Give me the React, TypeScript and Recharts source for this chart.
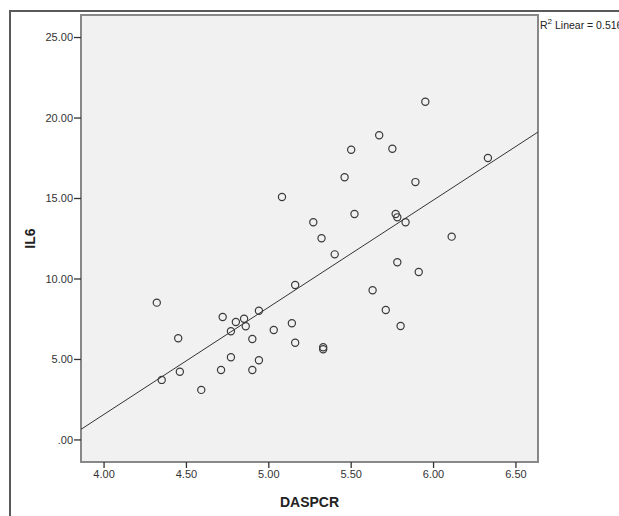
import {
  ReferenceArea,
  ReferenceLine,
  Scatter,
  ScatterChart,
  XAxis,
  YAxis,
} from "recharts";

// DASPCR (x) and IL6 (y) values
const daspcr = [
  4.32, 4.35, 4.45, 4.46, 4.59, 4.71, 4.72, 4.77, 4.77, 4.8, 4.85, 4.86, 4.9,
  4.9, 4.94, 4.94, 5.03, 5.08, 5.14, 5.16, 5.16, 5.27, 5.32, 5.33, 5.33, 5.4,
  5.46, 5.5, 5.52, 5.63, 5.67, 5.71, 5.75, 5.77, 5.78, 5.78, 5.8, 5.83, 5.89,
  5.91, 5.95, 6.11, 6.33,
];
const il6 = [
  8.53, 3.73, 6.32, 4.24, 3.11, 4.35, 7.64, 6.75, 5.14, 7.33, 7.53, 7.06, 6.27,
  4.35, 8.03, 4.95, 6.83, 15.09, 7.25, 9.63, 6.04, 13.52, 12.53, 5.76, 5.63,
  11.53, 16.32, 18.03, 14.04, 9.3, 18.93, 8.07, 18.09, 14.04, 13.83, 11.04,
  7.08, 13.52, 16.02, 10.43, 21.01, 12.63, 17.52,
];

const xTicks = [4, 4.5, 5, 5.5, 6, 6.5];
const yTicks = [0, 5, 10, 15, 20, 25];
const xDomain = [3.86, 6.634];
const yDomain = [-1.37, 26.4];

// fit line ends where it meets the plot frame
const fitStart = { x: 3.86, y: 0.66 };
const fitEnd = { x: 6.634, y: 19.13 };

const points = daspcr.map((x, i) => ({ x, y: il6[i] }));

const fmt = (v: number) => (v === 0 ? ".00" : v.toFixed(2));

const Ring = (props: any) => (
  <circle
    cx={props.cx}
    cy={props.cy}
    r={3.6}
    fill="none"
    stroke="#3a3a3a"
    strokeWidth={1.2}
  />
);

const YLabel = (props: any) => {
  const vb = props.viewBox || { y: 15, height: 447 };
  const cy = vb.y + vb.height / 2;
  return (
    <text
      x={30}
      y={cy}
      transform={`rotate(-90, 30, ${cy})`}
      textAnchor="middle"
      dominantBaseline="central"
      fontSize={14}
      fontWeight="bold"
      fill="#222"
    >
      IL6
    </text>
  );
};

const XLabel = (props: any) => {
  const vb = props.viewBox || { x: 81, y: 462, width: 457 };
  return (
    <text
      x={vb.x + vb.width / 2}
      y={vb.y + 40}
      textAnchor="middle"
      dominantBaseline="central"
      fontSize={14}
      fontWeight="bold"
      fill="#222"
    >
      DASPCR
    </text>
  );
};

const App = () => {
  return (
    <div
      style={{
        position: "absolute",
        left: 0,
        top: 0,
        width: 619,
        height: 516,
        overflow: "hidden",
        background: "#fff",
        fontFamily: "'Liberation Sans', Arial, sans-serif",
      }}
    >
      <div
        style={{
          position: "absolute",
          left: 9,
          top: 10,
          width: 700,
          height: 600,
          border: "2px solid #5a5a5a",
        }}
      />
      <ScatterChart
        width={619}
        height={516}
        margin={{ top: 15, right: 81, bottom: 0, left: 0 }}
        style={{ position: "absolute", left: 0, top: 0 }}
      >
        <XAxis
          type="number"
          dataKey="x"
          domain={xDomain}
          ticks={xTicks}
          tickFormatter={fmt}
          allowDataOverflow
          height={54}
          axisLine={false}
          tickSize={6}
          tickMargin={2}
          tickLine={{ stroke: "#333", strokeWidth: 1.3 }}
          tick={{ fontSize: 11, fill: "#333" }}
          label={<XLabel />}
        />
        <YAxis
          type="number"
          dataKey="y"
          domain={yDomain}
          ticks={yTicks}
          tickFormatter={fmt}
          allowDataOverflow
          width={81}
          axisLine={false}
          tickSize={7}
          tickMargin={1}
          tickLine={{ stroke: "#333", strokeWidth: 1.3 }}
          tick={{ fontSize: 11, fill: "#333" }}
          label={<YLabel />}
        />
        <ReferenceArea
          x1={xDomain[0]}
          x2={xDomain[1]}
          y1={yDomain[0]}
          y2={yDomain[1]}
          fill="#f0f1f0"
          fillOpacity={1}
          stroke="#888"
          strokeWidth={2}
        />
        <ReferenceLine
          segment={[fitStart, fitEnd]}
          stroke="#333"
          strokeWidth={1}
        />
        <Scatter data={points} shape={<Ring />} isAnimationActive={false} />
      </ScatterChart>
      <div
        style={{
          position: "absolute",
          left: 540,
          top: 17,
          fontSize: 10.5,
          color: "#222",
          whiteSpace: "nowrap",
        }}
      >
        R<sup style={{ fontSize: 8 }}>2</sup> Linear = 0.516
      </div>
    </div>
  );
};

export default App;
